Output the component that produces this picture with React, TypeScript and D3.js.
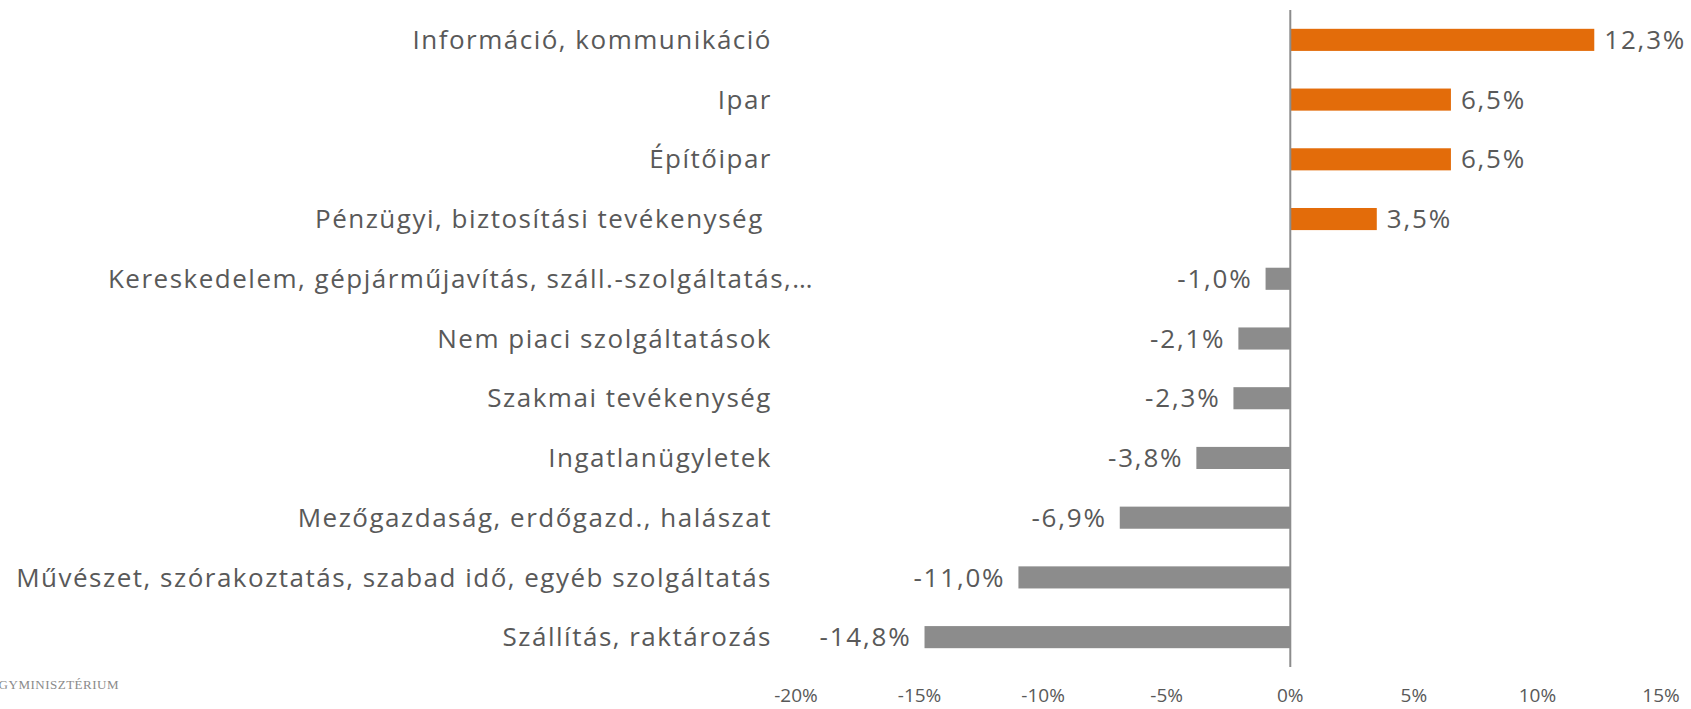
import React from 'react';
import * as d3 from 'd3';

// ágazatok, fentről lefelé
const categories = [
  'Információ, kommunikáció',
  'Ipar',
  'Építőipar',
  'Pénzügyi, biztosítási tevékenység ',
  'Kereskedelem, gépjárműjavítás, száll.-szolgáltatás,…',
  'Nem piaci szolgáltatások',
  'Szakmai tevékenység',
  'Ingatlanügyletek',
  'Mezőgazdaság, erdőgazd., halászat',
  'Művészet, szórakoztatás, szabad idő, egyéb szolgáltatás',
  'Szállítás, raktározás',
];
const values = [12.3, 6.5, 6.5, 3.5, -1.0, -2.1, -2.3, -3.8, -6.9, -11.0, -14.8];
const ticks = [-20, -15, -10, -5, 0, 5, 10, 15];

const W = 1691;
const H = 709;
const font = "'Open Sans', 'DejaVu Sans', sans-serif";
const textColor = '#595959';
const colors = { pos: '#E36C0A', neg: '#8C8C8C' };

const fmt = (v: number) => v.toFixed(1).replace('.', ',') + '%';

export default function App() {
  const x = d3.scaleLinear().domain([-20, 15]).range([796, 1661]);
  const y = d3.scaleBand<string>().domain(categories).range([10, 667]).paddingInner(0.63).paddingOuter(0.315);
  const labelRight = 772;

  return (
    <svg width={W} height={H} style={{ position: 'absolute', left: 0, top: 0, display: 'block' }}>
      <rect width={W} height={H} fill="#fff" />
      {categories.map((c, i) => {
        const v = values[i];
        const yc = (y(c) as number) + y.bandwidth() / 2;
        const x0 = x(Math.min(0, v));
        const w = Math.abs(x(v) - x(0));
        // a csonkolt címke kicsit jobbra lóg
        const lx = c.endsWith('…') ? labelRight + 42 : labelRight;
        return (
          <g key={c}>
            <rect x={x0} y={y(c)} width={w} height={y.bandwidth()} fill={v >= 0 ? colors.pos : colors.neg} />
            <text x={lx} y={yc} dy="0.35em" textAnchor="end" fontFamily={font} fontSize={26} letterSpacing={1.5}
              fill={textColor} style={{ whiteSpace: 'pre' }}>{c}</text>
            <text x={v >= 0 ? x(v) + 10 : x(v) - 13} y={yc} dy="0.35em" textAnchor={v >= 0 ? 'start' : 'end'}
              fontFamily={font} fontSize={26} letterSpacing={1.8} fill={textColor}>{fmt(v)}</text>
          </g>
        );
      })}
      <line x1={x(0)} x2={x(0)} y1={10} y2={667} stroke="#8C8C8C" strokeWidth={2} />
      {ticks.map(t => (
        <text key={t} x={x(t)} y={695} dy="0.35em" textAnchor="middle" fontFamily={font} fontSize={19} fill={textColor}>
          {t + '%'}
        </text>
      ))}
      <text x={119} y={684} dy="0.35em" textAnchor="end" fontFamily="'Liberation Serif', serif" fontSize={13}
        fill="#8a8a8a" letterSpacing={0.5}>PÉNZÜGYMINISZTÉRIUM</text>
    </svg>
  );
}
